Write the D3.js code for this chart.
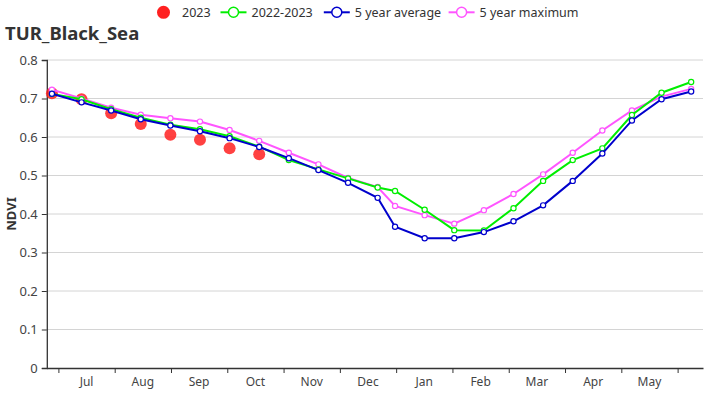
<!DOCTYPE html>
<html><head><meta charset="utf-8">
<script src="https://cdn.jsdelivr.net/npm/d3@7"></script>
<style>body{margin:0;background:#fff}svg{display:block}text{font-family:"Noto Sans",sans-serif}</style>
</head><body><svg id="c" width="726" height="400"></svg>
<script>
const title = "TUR_Black_Sea";
const monthLabels = ["Jul","Aug","Sep","Oct","Nov","Dec","Jan","Feb","Mar","Apr","May"];
const yTicks = [0,0.1,0.2,0.3,0.4,0.5,0.6,0.7,0.8];
// days relative to 1 Jul 2022 (month = 365/12 days)
const dayOfSeason = [-3.5,12.5,28.5,44.5,60.5,76.5,92.5,108.5,124.5,140.5,156.5,172.5,181.9,197.9,213.9,229.9,245.9,261.9,277.9,293.9,309.9,325.9,341.9];
const s2023 = [0.7135,0.698,0.6615,0.634,0.606,0.593,0.571,0.555];
const s2022_2023 = [0.712,0.698,0.672,0.650,0.632,0.620,0.602,0.575,0.540,0.516,0.4925,0.469,0.4597,0.411,0.358,0.357,0.415,0.486,0.540,0.5705,0.657,0.715,0.743];
const sAvg = [0.7125,0.690,0.669,0.646,0.630,0.615,0.597,0.574,0.545,0.514,0.481,0.442,0.367,0.337,0.337,0.353,0.381,0.4225,0.486,0.557,0.643,0.698,0.718];
const sMax = [0.723,0.700,0.676,0.658,0.649,0.640,0.618,0.590,0.559,0.529,0.4935,0.470,0.421,0.397,0.375,0.410,0.452,0.503,0.559,0.617,0.669,0.705,0.725];

const monthLen = 365/12;
const svg = d3.select("#c");
const L = 46.8, R = 703, T = 60, B = 368;
const x = d3.scaleLinear().domain([-6.27, 348.3]).range([L, R]);
const y = d3.scaleLinear().domain([0, 0.8]).range([B, T]);

// grid
svg.append("g").selectAll("line").data(yTicks.filter(d=>d>0)).join("line")
  .attr("x1", L).attr("x2", R).attr("y1", d=>y(d)).attr("y2", d=>y(d))
  .attr("stroke", "#d4d4d4").attr("stroke-width", 1);

// y axis
const ya = svg.append("g").attr("transform", `translate(${L},0)`)
  .call(d3.axisLeft(y).tickValues(yTicks).tickFormat(d=>d===0?"0":d3.format(".1f")(d)).tickSize(5).tickPadding(4));
ya.select(".domain").attr("stroke", "#333").attr("stroke-width", 1.3);
ya.selectAll(".tick line").attr("stroke", "#333");
ya.selectAll("text").attr("font-size", 13).attr("fill", "#444").style("font-family", '"Noto Sans",sans-serif');

// x axis
const monthTicks = d3.range(12).map(k=>k*monthLen);
const xa = svg.append("g").attr("transform", `translate(0,${B})`)
  .call(d3.axisBottom(x).tickValues(monthTicks).tickFormat("").tickSize(5).tickSizeOuter(0));
xa.select(".domain").attr("stroke", "#333").attr("stroke-width", 1.3);
xa.selectAll(".tick line").attr("stroke", "#333");
svg.append("g").selectAll("text").data(monthLabels).join("text")
  .attr("x", (d,i)=>x((i+0.5)*monthLen)).attr("y", B+18)
  .attr("text-anchor", "middle").attr("font-size", 12).attr("fill", "#444").text(d=>d);

// y label
svg.append("text").attr("transform", `translate(16,${(T+B)/2}) rotate(-90)`)
  .attr("text-anchor", "middle").attr("font-size", 13).attr("font-weight", "bold").attr("fill", "#333").text("NDVI");

// title
svg.append("text").attr("x", 5).attr("y", 40).attr("font-size", 18.5).attr("font-weight", "bold").attr("fill", "#333").text(title);

// 2023 dots (behind lines)
svg.append("g").selectAll("circle").data(s2023).join("circle")
  .attr("cx", (d,i)=>x(dayOfSeason[i])).attr("cy", d=>y(d)).attr("r", 6)
  .attr("fill", "#ff2020").attr("fill-opacity", 0.85);

const series = [
  {name:"5 year maximum", vals:sMax, color:"#ff55ff"},
  {name:"2022-2023", vals:s2022_2023, color:"#00ee00"},
  {name:"5 year average", vals:sAvg, color:"#0000cc"}
];
const line = d3.line().x((d,i)=>x(dayOfSeason[i])).y(d=>y(d));
series.forEach(s=>{
  svg.append("path").datum(s.vals).attr("d", line).attr("fill","none").attr("stroke", s.color).attr("stroke-width", 2);
  svg.append("g").selectAll("circle").data(s.vals).join("circle")
    .attr("cx", (d,i)=>x(dayOfSeason[i])).attr("cy", d=>y(d)).attr("r", 2.6)
    .attr("fill", "#fff").attr("stroke", s.color).attr("stroke-width", 1.2);
});

// legend
const lg = svg.append("g");
lg.append("circle").attr("cx", 163.5).attr("cy", 12.3).attr("r", 6.5).attr("fill", "#ff2020");
lg.append("text").attr("x", 182).attr("y", 16.8).attr("font-size", 12.5).attr("fill", "#333").text("2023");
const legItems = [
  {name:"2022-2023", color:"#00ee00", x0:220.5},
  {name:"5 year average", color:"#0000cc", x0:323.8},
  {name:"5 year maximum", color:"#ff55ff", x0:448.6}
];
legItems.forEach(it=>{
  lg.append("line").attr("x1", it.x0).attr("x2", it.x0+26).attr("y1", 12.3).attr("y2", 12.3).attr("stroke", it.color).attr("stroke-width", 2);
  lg.append("circle").attr("cx", it.x0+13).attr("cy", 12.3).attr("r", 5).attr("fill", "#fff").attr("stroke", it.color).attr("stroke-width", 1.5);
  lg.append("text").attr("x", it.x0+31).attr("y", 16.8).attr("font-size", 12.5).attr("fill", "#333").text(it.name);
});
</script></body></html>
